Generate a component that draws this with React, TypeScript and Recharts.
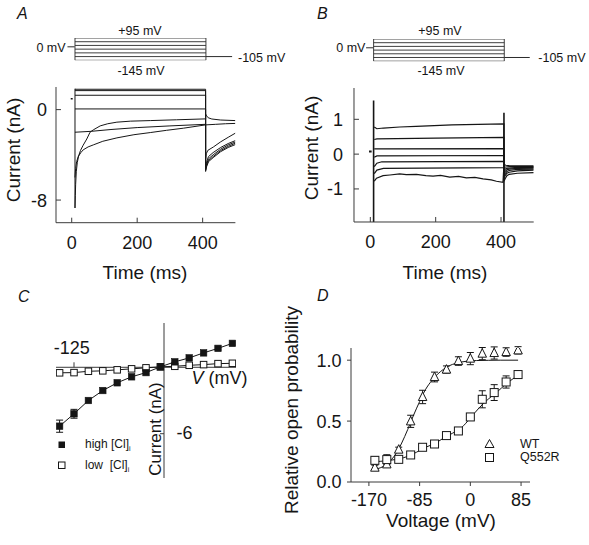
import React from 'react';
import { ComposedChart, Line, XAxis, YAxis, ReferenceLine, ErrorBar } from 'recharts';

const FONT = '"Liberation Sans", Arial, Helvetica, sans-serif';
const INK = '#151515';
const AXIS = '#3a3a3a';

// ---------- voltage protocol (insets above A and B) ----------
const protocolLevels = [95, 55, 15, -25, -65, -105, -145];
const protocolStart = 10;
const protocolEnd = 410;
const holdingLevel = -105;

// ---------- Panel A : current traces (t ms, I nA) ----------
const aTrace95: [number, number][] = [[10, 1.8], [409, 1.8], [409, -5.47], [412, -5.05], [418, -4.6], [432, -4.25], [455, -3.72], [478, -3.35], [500, -3.09]];
const aTrace55: [number, number][] = [[10, 1.68], [409, 1.68], [409, -5.35], [412, -4.95], [418, -4.5], [432, -4.15], [455, -3.62], [478, -3.25], [500, -2.97]];
const aTrace15: [number, number][] = [[10, 1.27], [409, 1.27], [409, -5.2], [412, -4.8], [418, -4.35], [432, -4.0], [455, -3.5], [478, -3.12], [500, -2.86]];
const aTraceM25: [number, number][] = [[10, 0.06], [409, 0.06], [409, -5.0], [412, -4.6], [418, -4.15], [432, -3.8], [455, -3.35], [478, -3.0], [500, -2.74]];
const aTraceM65: [number, number][] = [[10, -2.0], [60, -1.92], [120, -1.76], [200, -1.59], [300, -1.44], [409, -1.3], [409, -4.4], [411, -3.9], [416, -3.6], [433, -3.3], [455, -2.85], [478, -2.45], [500, -2.08]];
const aTraceM105: [number, number][] = [[10, -6.0], [12, -5.2], [15, -4.6], [20, -4.15], [28, -3.8], [35, -3.56], [50, -3.3], [66, -3.12], [95, -2.8], [138, -2.5], [190, -2.22], [240, -2.03], [290, -1.83], [342, -1.64], [409, -1.35], [440, -1.3], [470, -1.25], [500, -1.22]];
const aTraceM145: [number, number][] = [[10, -8.7], [11, -7.6], [12, -6.6], [14, -5.5], [17, -4.7], [21, -4.1], [27, -3.6], [35, -3.15], [46, -2.6], [56, -2.0], [66, -1.79], [87, -1.44], [110, -1.25], [138, -1.11], [180, -1.02], [240, -0.97], [320, -0.9], [409, -0.82], [409, -0.4], [412, -0.55], [417, -0.72], [428, -0.83], [455, -0.92], [500, -0.97]];
const aTransient: [number, number][] = [[10, 1.85], [10, -8.7]];
const aMark: [number, number][] = [[-3, 0.95], [3, 0.95]];

// ---------- Panel B : current traces (t ms, I nA) ----------
const bTrace1: [number, number][] = [[12, 0.78], [20, 0.73], [40, 0.75], [90, 0.78], [140, 0.8], [250, 0.84], [409, 0.87], [409, -0.78], [413, -0.7], [418, -0.62], [425, -0.58], [450, -0.55], [500, -0.53]];
const bTrace2: [number, number][] = [[12, 0.42], [20, 0.44], [200, 0.46], [409, 0.48], [409, -0.68], [413, -0.61], [418, -0.55], [425, -0.52], [450, -0.48], [500, -0.46]];
const bTrace3: [number, number][] = [[12, 0.15], [409, 0.16], [409, -0.6], [413, -0.55], [418, -0.5], [425, -0.47], [450, -0.44], [500, -0.43]];
const bTrace4: [number, number][] = [[12, -0.09], [20, -0.05], [409, -0.04], [409, -0.52], [413, -0.49], [418, -0.45], [425, -0.43], [450, -0.41], [500, -0.4]];
const bTrace5: [number, number][] = [[12, -0.36], [20, -0.26], [35, -0.22], [409, -0.21], [409, -0.45], [413, -0.43], [418, -0.41], [425, -0.4], [450, -0.38], [500, -0.38]];
const bTrace6: [number, number][] = [[12, -0.56], [20, -0.46], [40, -0.41], [409, -0.39], [409, -0.38], [415, -0.37], [425, -0.36], [450, -0.36], [500, -0.36]];
const bTrace7: [number, number][] = [[12, -0.78], [15, -0.74], [19, -0.69], [39, -0.62], [60, -0.6], [90, -0.57], [110, -0.59], [141, -0.58], [170, -0.62], [192, -0.63], [215, -0.61], [243, -0.66], [270, -0.64], [294, -0.68], [320, -0.67], [345, -0.71], [370, -0.74], [386, -0.78], [406, -0.81], [409, -0.3], [415, -0.32], [425, -0.33], [450, -0.34], [500, -0.34]];
const bTransientOn: [number, number][] = [[10, 1.54], [10, -1.95]];
const bTransientOff: [number, number][] = [[409, 1.19], [409, -1.95]];
const bMark: [number, number][] = [[-4, 0.075], [4, 0.075]];

// ---------- Panel C : I-V ----------
const ivVoltages = [-145, -125, -105, -85, -65, -45, -25, -5, 15, 35, 55, 75, 95];
const highCl = [-5.32, -4.2, -3.0, -2.1, -1.4, -0.86, -0.48, 0.04, 0.49, 0.85, 1.3, 1.71, 2.16];
const highClErr = [0.55, 0.4, 0, 0, 0, 0, 0, 0, 0, 0, 0, 0, 0];
const lowCl = [-0.5, -0.48, -0.36, -0.32, -0.23, -0.14, -0.05, 0.04, 0.09, 0.18, 0.24, 0.33, 0.36];
const ivTickX: [number, number][] = [[-125, 0], [-125, 0.45]];
const ivTickY: [number, number][] = [[-5.5, -6], [0, -6]];

// ---------- Panel D : relative open probability ----------
const poVoltages = [-160, -140, -120, -100, -80, -60, -40, -20, 0, 20, 40, 60, 80];
const wtPo = [0.118, 0.145, 0.266, 0.498, 0.698, 0.862, 0.923, 0.993, 1.013, 1.054, 1.059, 1.067, 1.081];
const wtErr = [0.02, 0.02, 0.02, 0.05, 0.055, 0.04, 0.03, 0.035, 0.05, 0.05, 0.05, 0.035, 0.03];
const q552rPo = [0.178, 0.184, 0.186, 0.222, 0.285, 0.312, 0.381, 0.419, 0.534, 0.679, 0.734, 0.821, 0.882];
const q552rErr = [0.03, 0.04, 0.02, 0.02, 0.02, 0.02, 0.02, 0.02, 0.02, 0.07, 0.065, 0.05, 0.02];
const wtFitV = [-165, -155, -145, -135, -125, -115, -105, -95, -85, -75, -65, -55, -45, -35, -25, -15, -5, 10, 30, 50, 80];
const wtFit = [0.1, 0.11, 0.13, 0.17, 0.23, 0.32, 0.43, 0.55, 0.66, 0.76, 0.83, 0.885, 0.925, 0.955, 0.973, 0.985, 0.992, 0.997, 0.999, 1.0, 1.0];
const qFitV = [-165, -150, -135, -120, -105, -90, -75, -60, -45, -30, -15, 0, 15, 30, 45, 60, 80];
const qFit = [0.165, 0.17, 0.178, 0.19, 0.21, 0.245, 0.285, 0.315, 0.36, 0.4, 0.445, 0.525, 0.61, 0.68, 0.74, 0.805, 0.876];

// ---------- helpers ----------
const pts = (arr: [number, number][]) => arr.map(([x, y]) => ({ x, y }));
const zipXY = (xs: number[], ys: number[], es?: number[]) =>
  xs.map((x, k) => (es ? { x, y: ys[k], e: es[k] } : { x, y: ys[k] }));

type Box = { left: number; top: number; width: number; height: number };

const PAD = 10;
const YW = 50;
const XH = 40;

function Frame(props: {
  box: Box;
  hidden?: boolean;
  xDomain: [number, number];
  yDomain: [number, number];
  xTicks?: number[];
  yTicks?: number[];
  xTick?: any;
  yTick?: any;
  children: any;
}) {
  const { box, hidden, xDomain, yDomain, xTicks, yTicks, xTick, yTick, children } = props;
  const left = hidden ? box.left - PAD : box.left - YW;
  const top = box.top - PAD;
  const width = hidden ? box.width + 2 * PAD : YW + box.width + PAD;
  const height = hidden ? box.height + 2 * PAD : PAD + box.height + XH;
  const margin = hidden
    ? { top: PAD, right: PAD, bottom: PAD, left: PAD }
    : { top: PAD, right: PAD, bottom: 0, left: 0 };
  return (
    <div style={{ position: 'absolute', left, top, width, height }}>
      <ComposedChart width={width} height={height} margin={margin}>
        <XAxis
          type="number"
          dataKey="x"
          domain={xDomain}
          allowDataOverflow
          hide={!!hidden}
          ticks={xTicks}
          interval={0}
          tick={xTick}
          tickLine={false}
          tickSize={0}
          tickMargin={0}
          height={XH}
          axisLine={{ stroke: AXIS, strokeWidth: 1 }}
        />
        <YAxis
          type="number"
          domain={yDomain}
          allowDataOverflow
          hide={!!hidden}
          ticks={yTicks}
          interval={0}
          tick={yTick}
          tickLine={false}
          tickSize={0}
          tickMargin={0}
          width={YW}
          axisLine={{ stroke: AXIS, strokeWidth: 1 }}
        />
        {children}
      </ComposedChart>
    </div>
  );
}

const makeXTick = (inward: boolean, len: number, gap: number, fmt: (v: number) => string) => (p: any) => (
  <g>
    <line x1={p.x} x2={p.x} y1={p.y} y2={p.y + (inward ? -len : len)} stroke={AXIS} strokeWidth={1} />
    <text x={p.x} y={p.y + gap} dy="0.72em" textAnchor="middle" fontSize={18} fontFamily={FONT} fill={INK}>
      {fmt(p.payload.value)}
    </text>
  </g>
);
const makeYTick = (inward: boolean, len: number, gap: number, fmt: (v: number) => string) => (p: any) => (
  <g>
    <line x1={p.x} x2={p.x + (inward ? len : -len)} y1={p.y} y2={p.y} stroke={AXIS} strokeWidth={1} />
    <text x={p.x - gap} y={p.y} dy="0.36em" textAnchor="end" fontSize={18} fontFamily={FONT} fill={INK}>
      {fmt(p.payload.value)}
    </text>
  </g>
);
const intFmt = (v: number) => String(v);
const fixed1 = (v: number) => v.toFixed(1);

const trace = (key: string, arr: [number, number][], w = 1, color = INK) => (
  <Line
    key={key}
    data={pts(arr)}
    dataKey="y"
    type="linear"
    stroke={color}
    strokeWidth={w}
    dot={false}
    activeDot={false}
    isAnimationActive={false}
  />
);

const filledSquare = (s: number) => (p: any) => (
  <rect key={p.index} x={p.cx - s / 2} y={p.cy - s / 2} width={s} height={s} fill={INK} stroke={INK} strokeWidth={0.6} />
);
const openSquare = (s: number) => (p: any) => (
  <rect key={p.index} x={p.cx - s / 2} y={p.cy - s / 2} width={s} height={s} fill="#fff" stroke={INK} strokeWidth={1} />
);
const openTriangle = (s: number) => (p: any) => (
  <polygon
    key={p.index}
    points={`${p.cx},${p.cy - s * 0.58} ${p.cx - s / 2},${p.cy + s * 0.42} ${p.cx + s / 2},${p.cy + s * 0.42}`}
    fill="#fff"
    stroke={INK}
    strokeWidth={1}
  />
);

function Protocol({ box, xDomain, holdEnd }: { box: Box; xDomain: [number, number]; holdEnd: number }) {
  const lines: any[] = protocolLevels.map((v, k) =>
    trace('lv' + k, [[protocolStart, v], [protocolEnd, v]], 0.9, '#2a2a2a')
  );
  const top = protocolLevels[0];
  const bottom = protocolLevels[protocolLevels.length - 1];
  lines.push(trace('e1', [[protocolStart, bottom], [protocolStart, top]], 0.9, '#2a2a2a'));
  lines.push(trace('e2', [[protocolEnd, bottom], [protocolEnd, top]], 0.9, '#2a2a2a'));
  lines.push(trace('hold', [[protocolEnd, holdingLevel], [holdEnd, holdingLevel]], 1, '#2a2a2a'));
  lines.push(trace('zt', [[-13, 0], [protocolStart - 1, 0]], 1, '#2a2a2a'));
  return (
    <Frame hidden box={box} xDomain={xDomain} yDomain={[bottom, top]}>
      {lines}
    </Frame>
  );
}

function Txt(props: { x: number; y: number; size?: number; rotate?: boolean; left?: boolean; italic?: boolean; children: any }) {
  const { x, y, size = 19, rotate, left, italic, children } = props;
  return (
    <div
      style={{
        position: 'absolute',
        left: x,
        top: y,
        transform: `translate(${left ? '0' : '-50%'}, -50%)${rotate ? ' rotate(-90deg)' : ''}`,
        fontSize: size,
        lineHeight: 1,
        whiteSpace: 'pre',
        fontStyle: italic ? 'italic' : 'normal',
        color: INK,
      }}
    >
      {children}
    </div>
  );
}

const boxA: Box = { left: 56, top: 87, width: 179.4, height: 135.7 };
const boxB: Box = { left: 354.3, top: 88.3, width: 179.7, height: 134 };
const boxC: Box = { left: 56, top: 322.7, width: 180, height: 155 };
const boxD: Box = { left: 351, top: 347.7, width: 179, height: 134 };
const boxPA: Box = { left: 56, top: 38.4, width: 179.4, height: 22.3 };
const boxPB: Box = { left: 354.3, top: 38.6, width: 179.7, height: 22.2 };

export default function App() {
  const ivHigh = zipXY(ivVoltages, highCl, highClErr);
  const ivLow = zipXY(ivVoltages, lowCl);
  const wt = zipXY(poVoltages, wtPo, wtErr);
  const q = zipXY(poVoltages, q552rPo, q552rErr);
  const wtF = zipXY(wtFitV, wtFit);
  const qF = zipXY(qFitV, qFit);

  return (
    <div
      style={{
        position: 'absolute',
        left: 0,
        top: 0,
        width: 589,
        height: 545,
        background: '#fff',
        fontFamily: FONT,
        color: INK,
        overflow: 'hidden',
      }}
    >
      {/* panel letters */}
      <Txt x={17} y={13.5} size={16} italic left>A</Txt>
      <Txt x={317} y={13.5} size={16} italic left>B</Txt>
      <Txt x={18} y={297} size={16} italic left>C</Txt>
      <Txt x={317} y={296} size={16} italic left>D</Txt>

      {/* protocols */}
      <Protocol box={boxPA} xDomain={[-48, 500]} holdEnd={490} />
      <Protocol box={boxPB} xDomain={[-50, 500]} holdEnd={488} />
      <Txt x={140} y={31} size={12.5}>+95 mV</Txt>
      <Txt x={141} y={71} size={12.5}>-145 mV</Txt>
      <Txt x={51} y={48} size={12.5}>0 mV</Txt>
      <Txt x={238} y={57.5} size={12.5} left>-105 mV</Txt>
      <Txt x={440} y={31} size={12.5}>+95 mV</Txt>
      <Txt x={441} y={71} size={12.5}>-145 mV</Txt>
      <Txt x={350.8} y={48} size={12.5}>0 mV</Txt>
      <Txt x={538.3} y={57.5} size={12.5} left>-105 mV</Txt>

      {/* Panel A */}
      <Frame
        box={boxA}
        xDomain={[-48, 500]}
        yDomain={[-10, 2]}
        xTicks={[0, 200, 400]}
        yTicks={[-8, 0]}
        xTick={makeXTick(true, 5, 13, intFmt)}
        yTick={makeYTick(true, 5, 9, intFmt)}
      >
        {[
          trace('a95', aTrace95),
          trace('a55', aTrace55),
          trace('a15', aTrace15),
          trace('am25', aTraceM25),
          trace('am65', aTraceM65),
          trace('am105', aTraceM105),
          trace('am145', aTraceM145),
          trace('atr', aTransient),
          trace('amk', aMark, 1.5),
        ]}
      </Frame>
      <Txt x={12.5} y={150} rotate>Current (nA)</Txt>
      <Txt x={145} y={271.5}>Time (ms)</Txt>

      {/* Panel B */}
      <Frame
        box={boxB}
        xDomain={[-50, 500]}
        yDomain={[-1.95, 1.9]}
        xTicks={[0, 200, 400]}
        yTicks={[-1, 0, 1]}
        xTick={makeXTick(true, 5, 13, intFmt)}
        yTick={makeYTick(true, 5, 11, intFmt)}
      >
        {[
          trace('b1', bTrace1, 1.2),
          trace('b2', bTrace2, 1.2),
          trace('b3', bTrace3, 1.2),
          trace('b4', bTrace4, 1.2),
          trace('b5', bTrace5, 1.2),
          trace('b6', bTrace6, 1.2),
          trace('b7', bTrace7, 1.2),
          trace('bon', bTransientOn, 1.6),
          trace('boff', bTransientOff, 1.6),
          trace('bmk', bMark, 2),
        ]}
      </Frame>
      <Txt x={311} y={148} rotate>Current (nA)</Txt>
      <Txt x={445} y={271.5}>Time (ms)</Txt>

      {/* Panel C */}
      <Frame hidden box={boxC} xDomain={[-150, 100]} yDomain={[-10, 4]}>
        <ReferenceLine y={0} stroke={AXIS} strokeWidth={1} />
        <ReferenceLine x={0} stroke={AXIS} strokeWidth={1} />
        {trace('ctx', ivTickX, 1, AXIS)}
        {trace('cty', ivTickY, 1, AXIS)}
        <Line
          data={ivLow}
          dataKey="y"
          type="linear"
          stroke={INK}
          strokeWidth={1}
          dot={openSquare(6.5)}
          activeDot={false}
          isAnimationActive={false}
        />
        <Line
          data={ivHigh}
          dataKey="y"
          type="linear"
          stroke={INK}
          strokeWidth={1}
          dot={filledSquare(6.5)}
          activeDot={false}
          isAnimationActive={false}
        >
          <ErrorBar dataKey="e" width={3.5} stroke={INK} strokeWidth={1} direction="y" />
        </Line>
      </Frame>
      <Txt x={71.7} y={348} size={18}>-125</Txt>
      <Txt x={176.5} y={433} size={18} left>-6</Txt>
      <Txt x={155} y={429} size={17} rotate>Current (nA)</Txt>
      <Txt x={191.5} y={378} size={18} left>
        <span style={{ fontStyle: 'italic' }}>V</span> (mV)
      </Txt>
      {/* C legend */}
      <svg style={{ position: 'absolute', left: 55, top: 438 }} width={14} height={35}>
        <rect x={3.5} y={3.5} width={6.5} height={6.5} fill={INK} />
        <rect x={3.5} y={24} width={6.5} height={6.5} fill="#fff" stroke={INK} strokeWidth={1} />
      </svg>
      <Txt x={85} y={445} size={12} left>
        high [Cl]<sub style={{ fontSize: 7 }}>i</sub>
      </Txt>
      <Txt x={85} y={465.5} size={12} left>
        {'low  [Cl]'}<sub style={{ fontSize: 7 }}>i</sub>
      </Txt>

      {/* Panel D */}
      <Frame
        box={boxD}
        xDomain={[-200, 100]}
        yDomain={[0, 1.1]}
        xTicks={[-170, -85, 0, 85]}
        yTicks={[0, 0.5, 1]}
        xTick={makeXTick(false, 4, 11, intFmt)}
        yTick={makeYTick(false, 4, 9.5, fixed1)}
      >
        <Line data={wtF} dataKey="y" type="monotone" stroke={INK} strokeWidth={1} dot={false} activeDot={false} isAnimationActive={false} />
        <Line data={qF} dataKey="y" type="monotone" stroke={INK} strokeWidth={1} dot={false} activeDot={false} isAnimationActive={false} />
        <Line data={wt} dataKey="y" stroke="none" dot={openTriangle(8.5)} activeDot={false} isAnimationActive={false}>
          <ErrorBar dataKey="e" width={3.5} stroke={INK} strokeWidth={1} direction="y" />
        </Line>
        <Line data={q} dataKey="y" stroke="none" dot={openSquare(8)} activeDot={false} isAnimationActive={false}>
          <ErrorBar dataKey="e" width={3.5} stroke={INK} strokeWidth={1} direction="y" />
        </Line>
      </Frame>
      <Txt x={291} y={410} rotate>Relative open probability</Txt>
      <Txt x={441} y={520}>Voltage (mV)</Txt>
      {/* D legend */}
      <svg style={{ position: 'absolute', left: 482, top: 437 }} width={16} height={28}>
        <polygon points="7.5,2.5 3,10.5 12,10.5" fill="#fff" stroke={INK} strokeWidth={1} />
        <rect x={3.5} y={16.5} width={8} height={8} fill="#fff" stroke={INK} strokeWidth={1} />
      </svg>
      <Txt x={520} y={443.5} size={12.5} left>WT</Txt>
      <Txt x={520} y={457} size={12.5} left>Q552R</Txt>
    </div>
  );
}
